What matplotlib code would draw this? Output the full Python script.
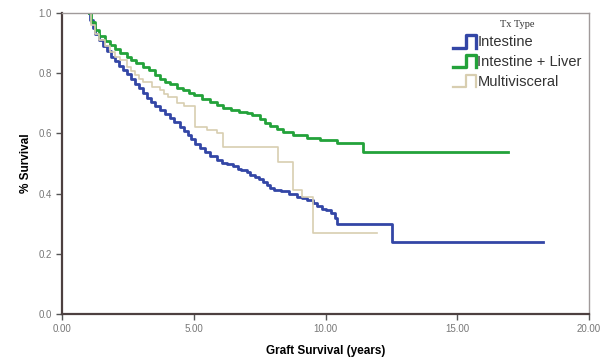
import numpy as np
import matplotlib
matplotlib.use('Agg')
import matplotlib.pyplot as plt
from matplotlib.lines import Line2D
from matplotlib.legend_handler import HandlerLine2D

plt.rcParams['font.family'] = ['Liberation Sans', 'DejaVu Sans']

# Curvas de sobrevida
intestine_t = [1.0, 1.05, 1.15, 1.25, 1.4, 1.55, 1.7, 1.85, 2.0, 2.15, 2.3, 2.44, 2.6, 2.75,
               2.9, 3.07, 3.2, 3.35, 3.5, 3.7, 3.9, 4.08, 4.25, 4.45, 4.6, 4.75, 4.9, 5.05,
               5.22, 5.4, 5.6, 5.86, 6.05, 6.25, 6.48, 6.65, 6.8, 7.0, 7.12, 7.3, 7.45, 7.6,
               7.75, 7.9, 8.05, 8.3, 8.6, 8.89, 9.1, 9.3, 9.5, 9.65, 9.85, 10.0, 10.2, 10.35,
               10.41, 12.5, 18.26]
intestine_s = [1.0, 0.975, 0.95, 0.93, 0.91, 0.89, 0.872, 0.855, 0.84, 0.825, 0.81, 0.797, 0.78, 0.765,
               0.75, 0.733, 0.718, 0.705, 0.692, 0.678, 0.665, 0.652, 0.637, 0.62, 0.608, 0.594, 0.58, 0.565,
               0.552, 0.538, 0.525, 0.512, 0.503, 0.497, 0.49, 0.483, 0.477, 0.47, 0.463, 0.455, 0.447, 0.438,
               0.43, 0.42, 0.413, 0.407, 0.40, 0.39, 0.384, 0.377, 0.37, 0.36, 0.35, 0.345, 0.335, 0.318,
               0.30, 0.24, 0.24]

liver_t = [1.0, 1.1, 1.25, 1.4, 1.6, 1.8, 2.0, 2.2, 2.44, 2.6, 2.8, 3.07, 3.3, 3.5, 3.7, 3.9,
           4.1, 4.35, 4.59, 4.8, 5.0, 5.3, 5.6, 5.86, 6.1, 6.4, 6.7, 7.0, 7.2, 7.5, 7.7, 7.9,
           8.15, 8.39, 8.76, 9.27, 9.8, 10.41, 11.43, 16.93]
liver_s = [1.0, 0.97, 0.945, 0.925, 0.908, 0.893, 0.88, 0.868, 0.855, 0.845, 0.834, 0.822, 0.81, 0.795,
           0.782, 0.772, 0.763, 0.752, 0.744, 0.735, 0.727, 0.715, 0.705, 0.693, 0.685, 0.678, 0.672, 0.667,
           0.66, 0.648, 0.636, 0.626, 0.615, 0.605, 0.595, 0.584, 0.578, 0.567, 0.539, 0.539]

multi_t = [1.0, 1.1, 1.25, 1.4, 1.6, 1.8, 2.0, 2.18, 2.44, 2.6, 2.75, 2.9, 3.07, 3.4, 3.7, 3.85,
           4.0, 4.34, 4.6, 5.03, 5.5, 5.86, 6.1, 8.2, 8.77, 9.1, 9.52, 11.93]
multi_s = [1.0, 0.96, 0.93, 0.91, 0.89, 0.87, 0.855, 0.843, 0.822, 0.808, 0.795, 0.782, 0.77, 0.755,
           0.744, 0.73, 0.72, 0.70, 0.69, 0.622, 0.61, 0.60, 0.556, 0.505, 0.412, 0.39, 0.268, 0.268]

labels = ['Intestine', 'Intestine + Liver', 'Multivisceral']
colors = ['#3346a6', '#23a23a', '#d8ceb0']

xticks = [0, 5, 10, 15, 20]
yticks = [0.0, 0.2, 0.4, 0.6, 0.8, 1.0]


class StepHandler(HandlerLine2D):
    # simbolo em degrau na legenda
    def create_artists(self, legend, orig_handle, xdescent, ydescent, width, height, fontsize, trans):
        xs = np.array([0, 0.55, 0.55, 0.97, 0.97]) * width - xdescent
        ys = np.array([-0.15, -0.15, 1.1, 1.1, -0.15]) * height - ydescent
        line = Line2D(xs, ys, color=orig_handle.get_color(), lw=orig_handle.get_linewidth() + 0.4)
        line.set_transform(trans)
        return [line]


fig = plt.figure(figsize=(6.03, 3.6), dpi=100)
ax = fig.add_axes([0.1036, 0.128, 0.8732, 0.836])

h1, = ax.plot(intestine_t, intestine_s, drawstyle='steps-post', color=colors[0], lw=2.0)
h2, = ax.plot(liver_t, liver_s, drawstyle='steps-post', color=colors[1], lw=2.0)
h3, = ax.plot(multi_t, multi_s, drawstyle='steps-post', color=colors[2], lw=1.2)

ax.set_xlim(0, 20)
ax.set_ylim(0, 1.0)
ax.set_xticks(xticks)
ax.set_xticklabels(['%.2f' % v for v in xticks])
ax.set_yticks(yticks)
ax.set_yticklabels(['%.1f' % v for v in yticks])
ax.tick_params(labelsize=7, labelcolor='#777777', color='#555555', length=4, width=1)

for s in ['left', 'bottom']:
    ax.spines[s].set_color('#4d4040')
    ax.spines[s].set_linewidth(1.6)
for s in ['top', 'right']:
    ax.spines[s].set_color('#a09a9a')
    ax.spines[s].set_linewidth(1.0)

ax.set_xlabel('Graft Survival (years)', fontsize=8.5, fontweight='bold', labelpad=8)
ax.set_ylabel('% Survival', fontsize=8.5, fontweight='bold', labelpad=5)

leg = ax.legend([h1, h2, h3], labels, loc='upper right', frameon=False,
                title='Tx Type', fontsize=10.5, handlelength=1.6, handletextpad=0.05,
                labelspacing=0.4, borderaxespad=0.2, borderpad=0.3,
                handler_map={Line2D: StepHandler()})
leg.get_title().set_fontfamily('Liberation Serif')
leg.get_title().set_fontsize(7.5)
leg.get_title().set_color('#333333')
for t in leg.get_texts():
    t.set_color('#333333')

fig.savefig('out.png', dpi=100)
